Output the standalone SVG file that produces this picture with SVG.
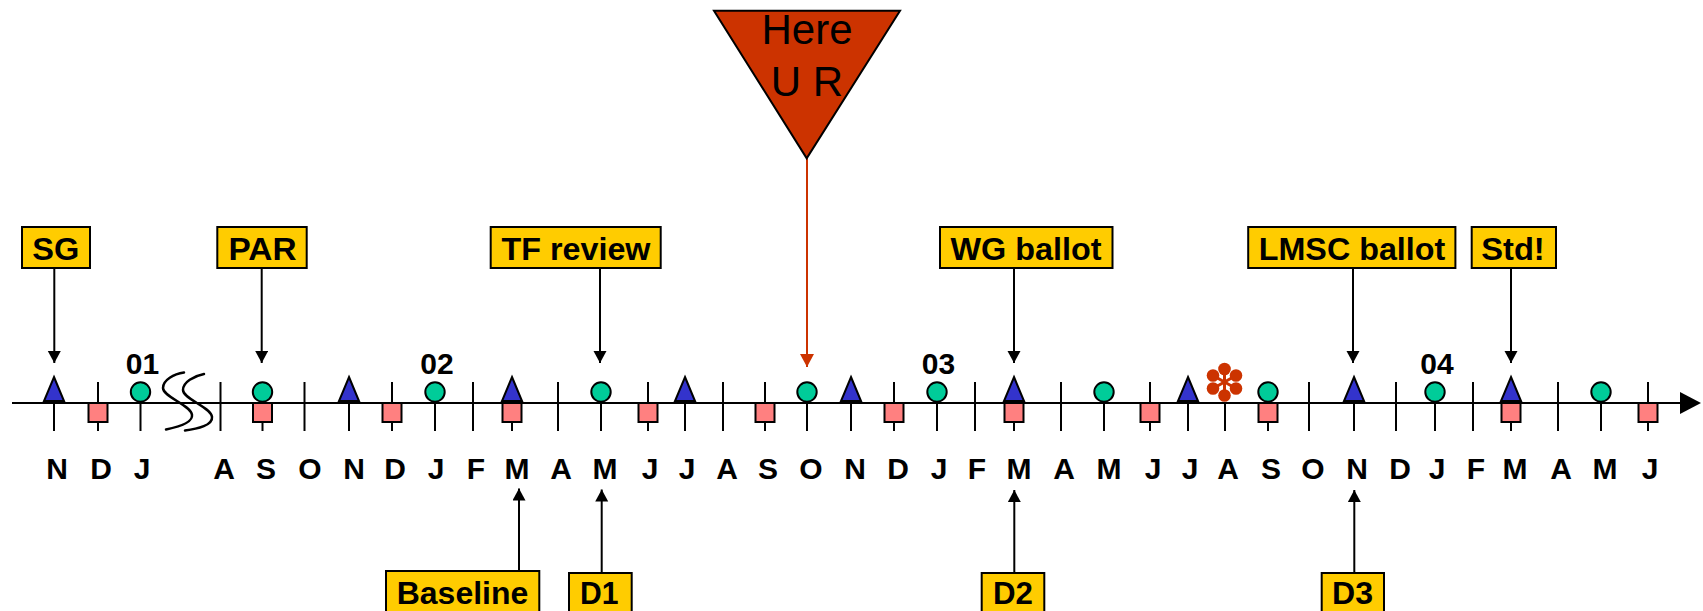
<svg xmlns="http://www.w3.org/2000/svg" width="1703" height="611" viewBox="0 0 1703 611">
<defs>
<style>
.lbl{fill:#FFCC00;stroke:#000;stroke-width:2}
.lt{font-family:"Liberation Sans",Arial,sans-serif;font-weight:bold;font-size:31px;fill:#000;text-anchor:middle}
.mo{font-family:"Liberation Sans",Arial,sans-serif;font-weight:bold;font-size:30px;fill:#000;text-anchor:middle}
.yr{font-family:"Liberation Sans",Arial,sans-serif;font-weight:bold;font-size:30px;fill:#000;text-anchor:middle}
.tick{stroke:#000;stroke-width:2}
.circ{fill:#00CC99;stroke:#000;stroke-width:2}
.tri{fill:#3333CC;stroke:#000;stroke-width:2;stroke-linejoin:miter}
.sq{fill:#FF8080;stroke:#000;stroke-width:2}
.conn{stroke:#000;stroke-width:2;fill:none}
.red{stroke:#CC3300;stroke-width:2;fill:none}
</style>
<marker id="ah" markerUnits="userSpaceOnUse" markerWidth="14" markerHeight="14" refX="12" refY="6.5" orient="auto">
<path d="M0,0 L12,6.5 L0,13 z" fill="#000"/>
</marker>
<marker id="ahr" markerUnits="userSpaceOnUse" markerWidth="16" markerHeight="16" refX="13" refY="7" orient="auto">
<path d="M0,0 L13,7 L0,14 z" fill="#CC3300"/>
</marker>
<polygon id="tr" points="0,-26 10,-2 -10,-2" class="tri"/>
<rect id="sqr" x="-9.5" y="0" width="19" height="19" class="sq"/>
<circle id="ci" cx="0" cy="-11" r="9.7" class="circ"/>
</defs>
<rect x="0" y="0" width="1703" height="611" fill="#fff"/>

<g id="axis">
<line x1="12" y1="403" x2="1682" y2="403" stroke="#000" stroke-width="2"/>
<polygon points="1680,392 1701,403 1680,414" fill="#000"/>
</g>

<g id="ticks">
<line class="tick" x1="54" y1="382" x2="54" y2="431"/>
<line class="tick" x1="98" y1="382" x2="98" y2="431"/>
<line class="tick" x1="140.5" y1="382" x2="140.5" y2="431"/>
<line class="tick" x1="220.5" y1="382" x2="220.5" y2="431"/>
<line class="tick" x1="262.5" y1="382" x2="262.5" y2="431"/>
<line class="tick" x1="304.5" y1="382" x2="304.5" y2="431"/>
<line class="tick" x1="349" y1="382" x2="349" y2="431"/>
<line class="tick" x1="392" y1="382" x2="392" y2="431"/>
<line class="tick" x1="435" y1="382" x2="435" y2="431"/>
<line class="tick" x1="473" y1="382" x2="473" y2="431"/>
<line class="tick" x1="512" y1="382" x2="512" y2="431"/>
<line class="tick" x1="558" y1="382" x2="558" y2="431"/>
<line class="tick" x1="601" y1="382" x2="601" y2="431"/>
<line class="tick" x1="648" y1="382" x2="648" y2="431"/>
<line class="tick" x1="685" y1="382" x2="685" y2="431"/>
<line class="tick" x1="723" y1="382" x2="723" y2="431"/>
<line class="tick" x1="765" y1="382" x2="765" y2="431"/>
<line class="tick" x1="807" y1="382" x2="807" y2="431"/>
<line class="tick" x1="851" y1="382" x2="851" y2="431"/>
<line class="tick" x1="894" y1="382" x2="894" y2="431"/>
<line class="tick" x1="937" y1="382" x2="937" y2="431"/>
<line class="tick" x1="975" y1="382" x2="975" y2="431"/>
<line class="tick" x1="1014" y1="382" x2="1014" y2="431"/>
<line class="tick" x1="1061" y1="382" x2="1061" y2="431"/>
<line class="tick" x1="1104" y1="382" x2="1104" y2="431"/>
<line class="tick" x1="1150" y1="382" x2="1150" y2="431"/>
<line class="tick" x1="1188" y1="382" x2="1188" y2="431"/>
<line class="tick" x1="1225" y1="403" x2="1225" y2="431"/>
<line class="tick" x1="1268" y1="382" x2="1268" y2="431"/>
<line class="tick" x1="1309" y1="382" x2="1309" y2="431"/>
<line class="tick" x1="1354" y1="382" x2="1354" y2="431"/>
<line class="tick" x1="1396" y1="382" x2="1396" y2="431"/>
<line class="tick" x1="1435" y1="382" x2="1435" y2="431"/>
<line class="tick" x1="1473" y1="382" x2="1473" y2="431"/>
<line class="tick" x1="1511" y1="382" x2="1511" y2="431"/>
<line class="tick" x1="1558" y1="382" x2="1558" y2="431"/>
<line class="tick" x1="1601" y1="382" x2="1601" y2="431"/>
<line class="tick" x1="1648" y1="382" x2="1648" y2="431"/>
</g>

<g id="break" fill="none" stroke="#000" stroke-width="2.5" stroke-linecap="round">
<path d="M184,372.5 C174,374 163,380 163,388 C163,397 191,405 192,415 C193,423 178,427 166,429.5"/>
<path d="M204,374 C194,376 183,382 183,390 C183,399 211,407 212,417 C213,425 198,429 185,430.5"/>
</g>

<g id="markers">
<use href="#tr" x="54" y="403"/>
<use href="#sqr" x="98" y="403"/>
<use href="#ci" x="140.5" y="403"/>
<use href="#ci" x="262.5" y="403"/>
<use href="#sqr" x="262.5" y="403"/>
<use href="#tr" x="349" y="403"/>
<use href="#sqr" x="392" y="403"/>
<use href="#ci" x="435" y="403"/>
<use href="#tr" x="512" y="403"/>
<use href="#sqr" x="512" y="403"/>
<use href="#ci" x="601" y="403"/>
<use href="#sqr" x="648" y="403"/>
<use href="#tr" x="685" y="403"/>
<use href="#sqr" x="765" y="403"/>
<use href="#ci" x="807" y="403"/>
<use href="#tr" x="851" y="403"/>
<use href="#sqr" x="894" y="403"/>
<use href="#ci" x="937" y="403"/>
<use href="#tr" x="1014" y="403"/>
<use href="#sqr" x="1014" y="403"/>
<use href="#ci" x="1104" y="403"/>
<use href="#sqr" x="1150" y="403"/>
<use href="#tr" x="1188" y="403"/>
<use href="#ci" x="1268" y="403"/>
<use href="#sqr" x="1268" y="403"/>
<use href="#tr" x="1354" y="403"/>
<use href="#ci" x="1435" y="403"/>
<use href="#tr" x="1511" y="403"/>
<use href="#sqr" x="1511" y="403"/>
<use href="#ci" x="1601" y="403"/>
<use href="#sqr" x="1648" y="403"/>
</g>

<g id="flower" fill="#CC3300" stroke="#CC3300" stroke-width="3">
<line x1="1224.5" y1="382" x2="1224.5" y2="369"/>
<line x1="1224.5" y1="382" x2="1224.5" y2="395.5"/>
<line x1="1224.5" y1="382" x2="1236" y2="375.5"/>
<line x1="1224.5" y1="382" x2="1213" y2="375.5"/>
<line x1="1224.5" y1="382" x2="1236" y2="388.5"/>
<line x1="1224.5" y1="382" x2="1213" y2="388.5"/>
<circle cx="1224.5" cy="382" r="2.5" stroke="none"/>
<circle cx="1224.5" cy="369" r="6.3" stroke="none"/>
<circle cx="1224.5" cy="395.5" r="6.3" stroke="none"/>
<circle cx="1236" cy="375.5" r="6.3" stroke="none"/>
<circle cx="1213" cy="375.5" r="6.3" stroke="none"/>
<circle cx="1236" cy="388.5" r="6.3" stroke="none"/>
<circle cx="1213" cy="388.5" r="6.3" stroke="none"/>
</g>

<g id="years">
<text class="yr" x="142.5" y="374">01</text>
<text class="yr" x="437" y="374">02</text>
<text class="yr" x="938.5" y="374">03</text>
<text class="yr" x="1437" y="374">04</text>
</g>

<g id="months">
<text class="mo" x="57" y="479">N</text>
<text class="mo" x="101" y="479">D</text>
<text class="mo" x="142" y="479">J</text>
<text class="mo" x="224" y="479">A</text>
<text class="mo" x="266" y="479">S</text>
<text class="mo" x="310" y="479">O</text>
<text class="mo" x="354" y="479">N</text>
<text class="mo" x="395" y="479">D</text>
<text class="mo" x="436" y="479">J</text>
<text class="mo" x="476" y="479">F</text>
<text class="mo" x="517" y="479">M</text>
<text class="mo" x="561" y="479">A</text>
<text class="mo" x="605" y="479">M</text>
<text class="mo" x="650" y="479">J</text>
<text class="mo" x="687" y="479">J</text>
<text class="mo" x="727" y="479">A</text>
<text class="mo" x="768" y="479">S</text>
<text class="mo" x="811" y="479">O</text>
<text class="mo" x="855" y="479">N</text>
<text class="mo" x="898" y="479">D</text>
<text class="mo" x="939" y="479">J</text>
<text class="mo" x="977" y="479">F</text>
<text class="mo" x="1019" y="479">M</text>
<text class="mo" x="1064" y="479">A</text>
<text class="mo" x="1109" y="479">M</text>
<text class="mo" x="1153" y="479">J</text>
<text class="mo" x="1190" y="479">J</text>
<text class="mo" x="1228" y="479">A</text>
<text class="mo" x="1271" y="479">S</text>
<text class="mo" x="1313" y="479">O</text>
<text class="mo" x="1357" y="479">N</text>
<text class="mo" x="1400" y="479">D</text>
<text class="mo" x="1437" y="479">J</text>
<text class="mo" x="1476" y="479">F</text>
<text class="mo" x="1515" y="479">M</text>
<text class="mo" x="1561" y="479">A</text>
<text class="mo" x="1605" y="479">M</text>
<text class="mo" x="1650" y="479">J</text>
</g>

<g id="connectors">
<line class="conn" x1="54.3" y1="268" x2="54.3" y2="363" marker-end="url(#ah)"/>
<line class="conn" x1="261.7" y1="268" x2="261.7" y2="363" marker-end="url(#ah)"/>
<line class="conn" x1="600" y1="268" x2="600" y2="363" marker-end="url(#ah)"/>
<line class="conn" x1="1014" y1="268" x2="1014" y2="363" marker-end="url(#ah)"/>
<line class="conn" x1="1353" y1="268" x2="1353" y2="363" marker-end="url(#ah)"/>
<line class="conn" x1="1511" y1="268" x2="1511" y2="363" marker-end="url(#ah)"/>
<line class="red" x1="807" y1="158" x2="807" y2="367" marker-end="url(#ahr)"/>
<line class="conn" x1="519" y1="571" x2="519" y2="488.5" marker-end="url(#ah)"/>
<line class="conn" x1="601.7" y1="573" x2="601.7" y2="489.5" marker-end="url(#ah)"/>
<line class="conn" x1="1014.3" y1="573" x2="1014.3" y2="490" marker-end="url(#ah)"/>
<line class="conn" x1="1354.3" y1="573" x2="1354.3" y2="490" marker-end="url(#ah)"/>
</g>

<g id="here">
<polygon points="714,10.7 900,10.7 806.7,158.3" fill="#CC3300" stroke="#000" stroke-width="2" stroke-linejoin="miter"/>
<text x="807" y="43.5" font-family="'Liberation Sans',Arial,sans-serif" font-size="42" text-anchor="middle" fill="#000">Here</text>
<text x="807" y="95.7" font-family="'Liberation Sans',Arial,sans-serif" font-size="42" text-anchor="middle" fill="#000">U R</text>
</g>

<g id="sg"><rect class="lbl" x="22" y="227" width="68" height="41"/><text class="lt" x="55.7" y="260" textLength="47" lengthAdjust="spacingAndGlyphs">SG</text></g>
<g id="par"><rect class="lbl" x="217.3" y="227" width="89.4" height="41"/><text class="lt" x="262.5" y="260" textLength="68" lengthAdjust="spacingAndGlyphs">PAR</text></g>
<g id="tfreview"><rect class="lbl" x="490.7" y="227" width="170" height="41"/><text class="lt" x="576" y="260" textLength="149" lengthAdjust="spacingAndGlyphs">TF review</text></g>
<g id="wgballot"><rect class="lbl" x="940" y="227" width="172.5" height="41"/><text class="lt" x="1026" y="260" textLength="151" lengthAdjust="spacingAndGlyphs">WG ballot</text></g>
<g id="lmscballot"><rect class="lbl" x="1248.2" y="227" width="207.2" height="41"/><text class="lt" x="1352" y="260" textLength="186.5" lengthAdjust="spacingAndGlyphs">LMSC ballot</text></g>
<g id="std"><rect class="lbl" x="1471.7" y="227" width="84.3" height="41"/><text class="lt" x="1513" y="260" textLength="63.5" lengthAdjust="spacingAndGlyphs">Std!</text></g>
<g id="baseline"><rect class="lbl" x="386" y="571" width="153.3" height="42"/><text class="lt" x="462.5" y="603.5" textLength="131.5" lengthAdjust="spacingAndGlyphs">Baseline</text></g>
<g id="d1"><rect class="lbl" x="569" y="573" width="62.7" height="42"/><text class="lt" x="599.3" y="604" textLength="38.5" lengthAdjust="spacingAndGlyphs">D1</text></g>
<g id="d2"><rect class="lbl" x="981.7" y="573" width="62.6" height="42"/><text class="lt" x="1013" y="604" textLength="40" lengthAdjust="spacingAndGlyphs">D2</text></g>
<g id="d3"><rect class="lbl" x="1321.7" y="573" width="62.3" height="42"/><text class="lt" x="1352.5" y="604" textLength="41" lengthAdjust="spacingAndGlyphs">D3</text></g>
</svg>
